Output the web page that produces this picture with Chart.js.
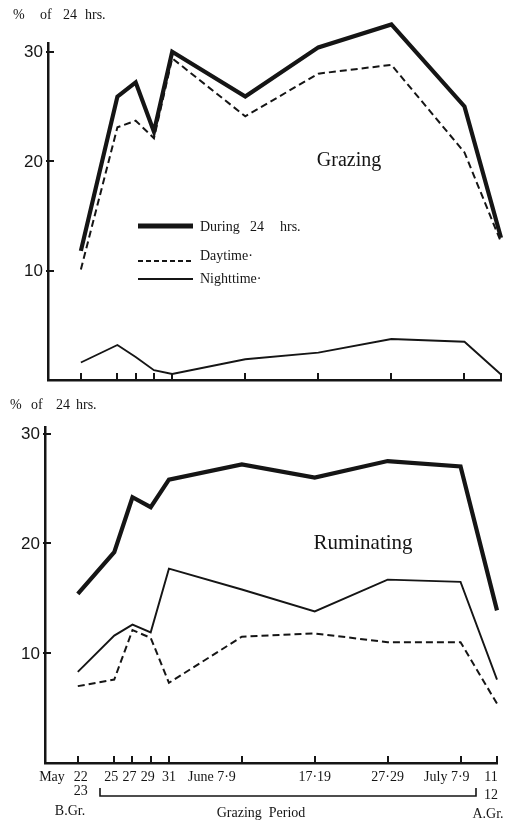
<!DOCTYPE html>
<html>
<head>
<meta charset="utf-8">
<script src="https://cdn.jsdelivr.net/npm/chart.js@4.4.1/dist/chart.umd.min.js"></script>
<style>
  html, body { margin: 0; padding: 0; background: #fff; }
  #wrap { position: relative; width: 515px; height: 821px; }
  canvas { position: absolute; left: 0; }
  #grazingChart { top: 0; }
  #ruminatingChart { top: 395px; }
</style>
</head>
<body>
<div id="wrap">
  <canvas id="grazingChart" width="515" height="395"></canvas>
  <canvas id="ruminatingChart" width="515" height="426"></canvas>
</div>
<script>
// sampling dates on the figure's uneven time axis (slot units)
const dateSlots = [0, 2, 3, 4, 5, 9, 13, 17, 21, 23];
const dateLabels = ['22', '25', '27', '29', '31', 'June 7·9', '17·19', '27·29', 'July 7·9', '11'];
const yTicks = [10, 20, 30];

// Grazing, % of 24 hrs
const grazing24h = [11.8, 25.9, 27.2, 22.7, 30.0, 25.9, 30.4, 32.5, 25.0, 13.0];
const grazingDay = [10.1, 23.1, 23.7, 22.1, 29.4, 24.1, 28.0, 28.8, 20.8, 12.6];
const grazingNight = [1.6, 3.2, 2.1, 0.9, 0.55, 1.9, 2.5, 3.75, 3.5, 0.5];

// Ruminating, % of 24 hrs
const rumin24h = [15.4, 19.2, 24.2, 23.3, 25.8, 27.2, 26.0, 27.5, 27.0, 13.9];
const ruminDay = [7.0, 7.6, 12.1, 11.4, 7.3, 11.5, 11.8, 11.0, 11.0, 5.4];
const ruminNight = [8.3, 11.6, 12.6, 11.9, 17.7, 15.8, 13.8, 16.7, 16.5, 7.6];

const ink = '#151515';
const serif = '"Liberation Serif", "DejaVu Serif", serif';
const sans = '"Liberation Sans", Arial, sans-serif';
Chart.defaults.color = ink;

function pts(vals) {
  return vals.map((v, i) => ({ x: dateSlots[i], y: v }));
}

function text(ctx, str, x, y, size, align, family) {
  ctx.font = size + 'px ' + (family || serif);
  ctx.textAlign = align || 'left';
  ctx.textBaseline = 'middle';
  ctx.fillStyle = ink;
  ctx.fillText(str, x, y);
}

// inward tick marks on both axes, plus the y numbers
function axisMarks(chart) {
  const { ctx, chartArea: a, scales: { x, y } } = chart;
  ctx.save();
  ctx.strokeStyle = ink;
  ctx.lineWidth = 2;
  ctx.beginPath();
  dateSlots.forEach(s => {
    const px = Math.round(x.getPixelForValue(s));
    ctx.moveTo(px, a.bottom);
    ctx.lineTo(px, a.bottom - 7);
  });
  yTicks.forEach(v => {
    const py = Math.round(y.getPixelForValue(v));
    ctx.moveTo(a.left - 2, py);
    ctx.lineTo(a.left + 6, py);
  });
  ctx.stroke();
  yTicks.forEach(v => {
    text(ctx, String(v), a.left - 5, y.getPixelForValue(v) + 1, 17, 'right', sans);
  });
  ctx.restore();
}

function makeChart(id, series, yMax, axisW, pad, xAxisH, extras) {
  const canvas = document.getElementById(id);
  return new Chart(canvas, {
    type: 'line',
    data: {
      datasets: [
        { label: 'During 24 hrs.', data: pts(series[0]), borderWidth: 4.2 },
        { label: 'Daytime', data: pts(series[1]), borderWidth: 2, borderDash: [7, 4] },
        { label: 'Nighttime', data: pts(series[2]), borderWidth: 1.9 }
      ].map(d => Object.assign(d, {
        borderColor: ink, pointRadius: 0, tension: 0, fill: false, clip: false,
        borderJoinStyle: 'miter'
      }))
    },
    options: {
      responsive: false,
      animation: false,
      layout: { padding: pad },
      plugins: { legend: { display: false }, tooltip: { enabled: false } },
      scales: {
        x: {
          type: 'linear', min: -1.8, max: 23,
          ticks: { display: false },
          grid: { display: false },
          border: { display: true, color: ink, width: 2.5 },
          afterFit: s => { s.height = xAxisH; }
        },
        y: {
          min: 0, max: yMax,
          ticks: { display: false, stepSize: 10 },
          grid: { display: false },
          border: { display: true, color: ink, width: 2.5 },
          afterFit: s => { s.width = axisW; }
        }
      }
    },
    plugins: [{
      id: 'decor',
      afterDraw(chart) {
        axisMarks(chart);
        extras(chart);
      }
    }]
  });
}

makeChart('grazingChart', [grazing24h, grazingDay, grazingNight], 30.8, 48,
  { top: 43, right: 14, left: 0, bottom: 0 }, 15, chart => {
    const ctx = chart.ctx;
    ctx.save();
    text(ctx, '%', 13, 15, 14);
    text(ctx, 'of', 40, 15, 14);
    text(ctx, '24', 63, 15, 14);
    text(ctx, 'hrs.', 85, 15, 14);
    text(ctx, 'Grazing', 349, 161, 20, 'center');
    // legend
    ctx.strokeStyle = ink;
    ctx.lineWidth = 5;
    ctx.beginPath(); ctx.moveTo(138, 226); ctx.lineTo(193, 226); ctx.stroke();
    ctx.lineWidth = 2;
    ctx.setLineDash([5, 3]);
    ctx.beginPath(); ctx.moveTo(138, 261); ctx.lineTo(193, 261); ctx.stroke();
    ctx.setLineDash([]);
    ctx.beginPath(); ctx.moveTo(138, 279); ctx.lineTo(193, 279); ctx.stroke();
    text(ctx, 'During', 200, 227, 14);
    text(ctx, '24', 250, 227, 14);
    text(ctx, 'hrs.', 280, 227, 14);
    text(ctx, 'Daytime·', 200, 256, 14);
    text(ctx, 'Nighttime·', 200, 279, 14);
    ctx.restore();
  });

makeChart('ruminatingChart', [rumin24h, ruminDay, ruminNight], 30.6, 45,
  { top: 32, right: 18, left: 0, bottom: 0 }, 58, chart => {
    const { ctx, scales: { x } } = chart;
    const px = dateSlots.map(s => x.getPixelForValue(s));
    const row1 = 382, row2 = 396;
    ctx.save();
    text(ctx, '%', 10, 10, 14);
    text(ctx, 'of', 31, 10, 14);
    text(ctx, '24', 56, 10, 14);
    text(ctx, 'hrs.', 76, 10, 14);
    text(ctx, 'Ruminating', 363, 148, 21, 'center');
    // date labels under the axis
    text(ctx, 'May', px[0] - 13, row1, 14, 'right');
    dateLabels.forEach((lab, i) => {
      if (i === 5) text(ctx, lab, px[i] - 6, row1, 14, 'right');
      else if (i === 8) text(ctx, lab, px[i] + 9, row1, 14, 'right');
      else if (i === 9) text(ctx, lab, px[i] - 6, row1, 14, 'center');
      else if (i === 0) text(ctx, lab, px[i] + 3, row1, 14, 'center');
      else text(ctx, lab, px[i] - (i >= 1 && i <= 3 ? 3 : 0), row1, 14, 'center');
    });
    text(ctx, '23', px[0] + 3, row2, 14, 'center');
    text(ctx, '12', px[9] - 6, row2 + 4, 14, 'center');
    // grazing period bracket
    ctx.strokeStyle = ink;
    ctx.lineWidth = 1.6;
    ctx.beginPath();
    ctx.moveTo(100, 393); ctx.lineTo(100, 401); ctx.lineTo(476, 401); ctx.lineTo(476, 393);
    ctx.stroke();
    text(ctx, 'B.Gr.', 70, 416, 14, 'center');
    text(ctx, 'Grazing  Period', 261, 418, 14, 'center');
    text(ctx, 'A.Gr.', 488, 419, 14, 'center');
    ctx.restore();
  });
</script>
</body>
</html>
